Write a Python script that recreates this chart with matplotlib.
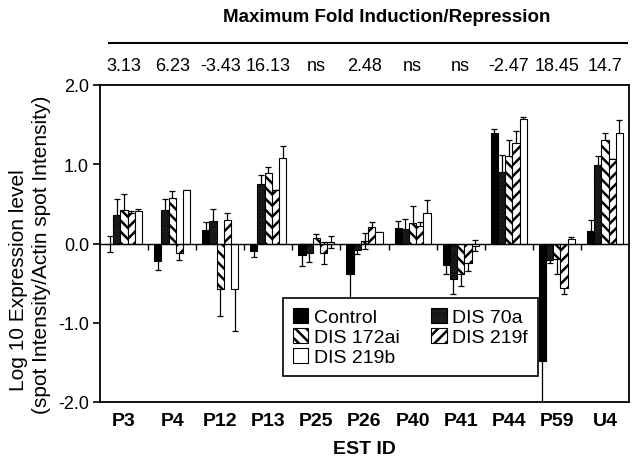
import numpy as np
import matplotlib
matplotlib.use("Agg")
import matplotlib.pyplot as plt
from matplotlib.patches import Patch
from matplotlib.lines import Line2D

genes = ["P3", "P4", "P12", "P13", "P25", "P26", "P40", "P41", "P44", "P59", "U4"]
fold = ["3.13", "6.23", "-3.43", "16.13", "ns", "2.48", "ns", "ns", "-2.47", "18.45", "14.7"]
series = ["Control", "DIS 70a", "DIS 172ai", "DIS 219f", "DIS 219b"]

control = [-0.01, -0.22, 0.17, -0.10, -0.15, -0.38, 0.19, -0.27, 1.40, -1.48, 0.16]
control_err = [0.10, 0.11, 0.10, 0.07, 0.14, 0.35, 0.10, 0.11, 0.05, 0.60, 0.14]
dis70a = [0.36, 0.42, 0.29, 0.75, -0.12, -0.08, 0.18, -0.45, 0.90, -0.21, 0.99]
dis70a_err = [0.20, 0.14, 0.14, 0.12, 0.11, 0.05, 0.13, 0.19, 0.22, 0.03, 0.12]
dis172ai = [0.42, 0.58, -0.58, 0.89, 0.07, 0.03, 0.26, -0.38, 1.10, -0.20, 1.30]
dis172ai_err = [0.20, 0.08, 0.34, 0.07, 0.05, 0.10, 0.21, 0.16, 0.20, 0.18, 0.09]
dis219f = [0.39, -0.12, 0.30, 0.67, -0.12, 0.21, 0.22, -0.25, 1.27, -0.56, 1.06]
dis219f_err = [0.02, 0.09, 0.09, 0.0, 0.14, 0.06, 0.05, 0.10, 0.15, 0.08, 0.0]
dis219b = [0.41, 0.67, -0.57, 1.08, 0.02, 0.14, 0.39, -0.03, 1.57, 0.06, 1.40]
dis219b_err = [0.03, 0.01, 0.53, 0.15, 0.08, 0.01, 0.16, 0.07, 0.02, 0.02, 0.16]

values = [control, dis70a, dis172ai, dis219f, dis219b]
errors = [control_err, dis70a_err, dis172ai_err, dis219f_err, dis219b_err]

plt.rcParams["font.family"] = "Liberation Sans"
plt.rcParams["hatch.linewidth"] = 1.8

# fill + hatch per series
styles = [
    ("black", None),
    ("#333333", "....."),
    ("white", "\\\\\\"),
    ("white", "///"),
    ("white", None),
]
offsets = [0.2, 0.35, 0.5, 0.65, 0.8]

fig = plt.figure(figsize=(6.34, 4.64), dpi=100)
ax = fig.add_axes([100 / 634, 1 - 403 / 464, 529 / 634, 317 / 464])

x = np.arange(len(genes))
handles = {}
for name, vals, errs, off, (fc, hatch) in zip(series, values, errors, offsets, styles):
    ax.errorbar(x + off, vals, yerr=errs, fmt="none", ecolor="black",
                elinewidth=0.9, capsize=2.5, capthick=0.9, zorder=2)
    ax.bar(x + off, vals, width=0.15, color=fc, edgecolor="black",
           linewidth=0.8, hatch=hatch, zorder=3)
    handles[name] = Patch(facecolor=fc, edgecolor="black", hatch=hatch, linewidth=0.8)

# category axis at zero with ticks between groups
ax.axhline(0, color="black", lw=1.0, zorder=4)
ax.vlines(np.arange(1, len(genes)), -0.08, 0, color="black", lw=1.0, zorder=4)

ax.set_xlim(0, len(genes))
ax.set_ylim(-2, 2)
ax.set_yticks([-2, -1, 0, 1, 2])
ax.set_yticklabels(["%.1f" % v for v in [-2, -1, 0, 1, 2]])
ax.set_xticks(x + 0.5)
ax.set_xticklabels(genes, fontweight="bold", fontsize=14)
ax.tick_params(axis="x", length=0, pad=7)
ax.tick_params(axis="y", direction="out", length=5, width=1.2, labelsize=13, pad=3)
for s in ax.spines.values():
    s.set_linewidth(1.3)

for i, f in enumerate(fold):
    ax.text(i + 0.5, 1.06, f, transform=ax.get_xaxis_transform(),
            ha="center", va="center", fontsize=13, clip_on=False)

fig.add_artist(Line2D([109 / 634, 627 / 634], [1 - 43.5 / 464] * 2,
                      transform=fig.transFigure, color="black", lw=1.5))
fig.text(387 / 634, 1 - 17 / 464, "Maximum Fold Induction/Repression",
         ha="center", va="center", fontsize=13.5, fontweight="bold")
fig.text(364.5 / 634, 1 - 450 / 464, "EST ID", ha="center", va="center",
         fontsize=14, fontweight="bold")
fig.text(19 / 634, 1 - 280 / 464, "Log 10 Expression level", rotation=90,
         ha="center", va="center", fontsize=15)
fig.text(42 / 634, 1 - 255 / 464, "(spot Intensity/Actin spot Intensity)", rotation=90,
         ha="center", va="center", fontsize=15)

order = ["Control", "DIS 172ai", "DIS 219b", "DIS 70a", "DIS 219f"]
leg = ax.legend([handles[n] for n in order], order, ncol=2,
                loc="upper left", bbox_to_anchor=(283 / 634, 1 - 299 / 464),
                bbox_transform=fig.transFigure, borderaxespad=0,
                fontsize=14, handlelength=0.8, handleheight=0.8,
                handletextpad=0.3, columnspacing=1.6, labelspacing=0.1,
                borderpad=0.5, fancybox=False, framealpha=1, edgecolor="black")
leg.get_frame().set_linewidth(1.2)

fig.savefig("out.png", dpi=100)
